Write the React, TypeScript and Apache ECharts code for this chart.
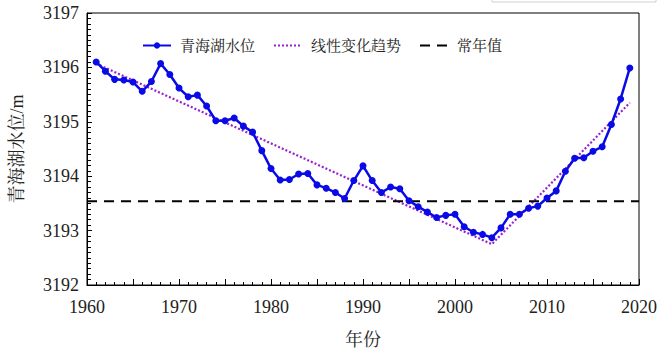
import React, { useEffect, useRef } from "react";
import * as echarts from "echarts";

const years: number[] = [
  1961, 1962, 1963, 1964, 1965, 1966, 1967, 1968, 1969, 1970,
  1971, 1972, 1973, 1974, 1975, 1976, 1977, 1978, 1979, 1980,
  1981, 1982, 1983, 1984, 1985, 1986, 1987, 1988, 1989, 1990,
  1991, 1992, 1993, 1994, 1995, 1996, 1997, 1998, 1999, 2000,
  2001, 2002, 2003, 2004, 2005, 2006, 2007, 2008, 2009, 2010,
  2011, 2012, 2013, 2014, 2015, 2016, 2017, 2018, 2019,
];

const levels: number[] = [
  3196.10, 3195.93, 3195.78, 3195.77, 3195.73, 3195.56, 3195.74, 3196.07, 3195.87, 3195.62,
  3195.46, 3195.49, 3195.29, 3195.02, 3195.02, 3195.07, 3194.92, 3194.81, 3194.47, 3194.14,
  3193.93, 3193.94, 3194.04, 3194.05, 3193.84, 3193.78, 3193.70, 3193.59, 3193.92, 3194.19,
  3193.92, 3193.70, 3193.80, 3193.77, 3193.55, 3193.44, 3193.34, 3193.24, 3193.28, 3193.30,
  3193.07, 3192.97, 3192.93, 3192.87, 3193.05, 3193.30, 3193.30, 3193.41, 3193.45, 3193.60,
  3193.73, 3194.09, 3194.33, 3194.34, 3194.46, 3194.54, 3194.95, 3195.42, 3195.99,
];

const trendYears: number[] = [1961, 2004, 2019];
const trendValues: number[] = [3196.07, 3192.75, 3195.35];

const normalYears: number[] = [1960, 2020];
const normalValue = 3193.54;

const seriesNames: string[] = ["青海湖水位", "线性变化趋势", "常年值"];
const xAxisName = "年份";
const yAxisName = "青海湖水位/m";

const FONT = "'Liberation Serif', 'Times New Roman', 'Noto Serif CJK SC', 'Noto Sans CJK SC', serif";

export default function App() {
  const ref = useRef<HTMLDivElement>(null);
  useEffect(() => {
    if (!ref.current) return;
    const chart = echarts.init(ref.current, undefined, { renderer: "svg" });
    chart.setOption({
      animation: false,
      backgroundColor: "#fff",
      textStyle: { fontFamily: FONT },
      grid: {
        left: 75,
        right: 29,
        top: 13,
        bottom: 60,
        show: true,
        borderColor: "#000",
        borderWidth: 1,
        backgroundColor: "transparent",
      },
      legend: {
        left: 137,
        top: 33,
        itemWidth: 28,
        itemHeight: 8,
        itemGap: 18,
        textStyle: { fontFamily: FONT, fontSize: 15, color: "#222", padding: [0, 0, 0, 4] },
        data: [
          { name: seriesNames[0] },
          { name: seriesNames[1], itemStyle: { opacity: 0 } },
          { name: seriesNames[2], itemStyle: { opacity: 0 } },
        ],
      },
      graphic: [
        {
          type: "rect",
          shape: { x: 492, y: -10, width: 164, height: 12 },
          style: { fill: "none", stroke: "#d0d0d0", lineWidth: 1 },
        },
      ],
      xAxis: {
        type: "value",
        min: 1960,
        max: 2020,
        interval: 5,
        name: xAxisName,
        nameLocation: "middle",
        nameGap: 46,
        nameTextStyle: { fontFamily: FONT, fontSize: 18, color: "#222" },
        axisLine: { show: true, lineStyle: { color: "#000", width: 1 } },
        axisTick: { show: true, inside: true, length: 6, lineStyle: { color: "#000" } },
        minorTick: { show: true, splitNumber: 5, length: 3, lineStyle: { color: "#000" } },
        splitLine: { show: false },
        axisLabel: {
          fontFamily: FONT,
          fontSize: 18,
          color: "#222",
          margin: 13,
          formatter: (v: number) => (v % 10 === 0 ? String(v) : ""),
        },
      },
      yAxis: {
        type: "value",
        min: 3192,
        max: 3197,
        interval: 1,
        name: yAxisName,
        nameLocation: "middle",
        nameGap: 61,
        nameTextStyle: { fontFamily: FONT, fontSize: 18, color: "#222" },
        axisLine: { show: true, lineStyle: { color: "#000", width: 1 } },
        axisTick: { show: true, inside: true, length: 5, lineStyle: { color: "#000" } },
        minorTick: { show: true, splitNumber: 10, length: 4, lineStyle: { color: "#000" } },
        splitLine: { show: false },
        axisLabel: {
          fontFamily: FONT,
          fontSize: 18,
          color: "#222",
          margin: 8,
          formatter: (v: number) => String(v),
        },
      },
      series: [
        {
          name: seriesNames[0],
          type: "line",
          data: years.map((y, i) => [y, levels[i]]),
          symbol: "circle",
          symbolSize: 7,
          color: "#0a0ae6",
          lineStyle: { color: "#0a0ae6", width: 2.5 },
          itemStyle: { color: "#0a0ae6" },
          z: 3,
        },
        {
          name: seriesNames[1],
          type: "line",
          data: trendYears.map((y, i) => [y, trendValues[i]]),
          symbol: "none",
          color: "#9a1fd0",
          lineStyle: { color: "#9a1fd0", width: 2.2, type: [2, 2] },
          z: 2,
        },
        {
          name: seriesNames[2],
          type: "line",
          data: normalYears.map((y) => [y, normalValue]),
          symbol: "none",
          color: "#000",
          lineStyle: { color: "#000", width: 2, type: [10, 7] },
          z: 2,
        },
      ],
    });
    return () => chart.dispose();
  }, []);
  return <div ref={ref} style={{ width: 668, height: 354, position: "absolute", left: 0, top: 0 }} />;
}
